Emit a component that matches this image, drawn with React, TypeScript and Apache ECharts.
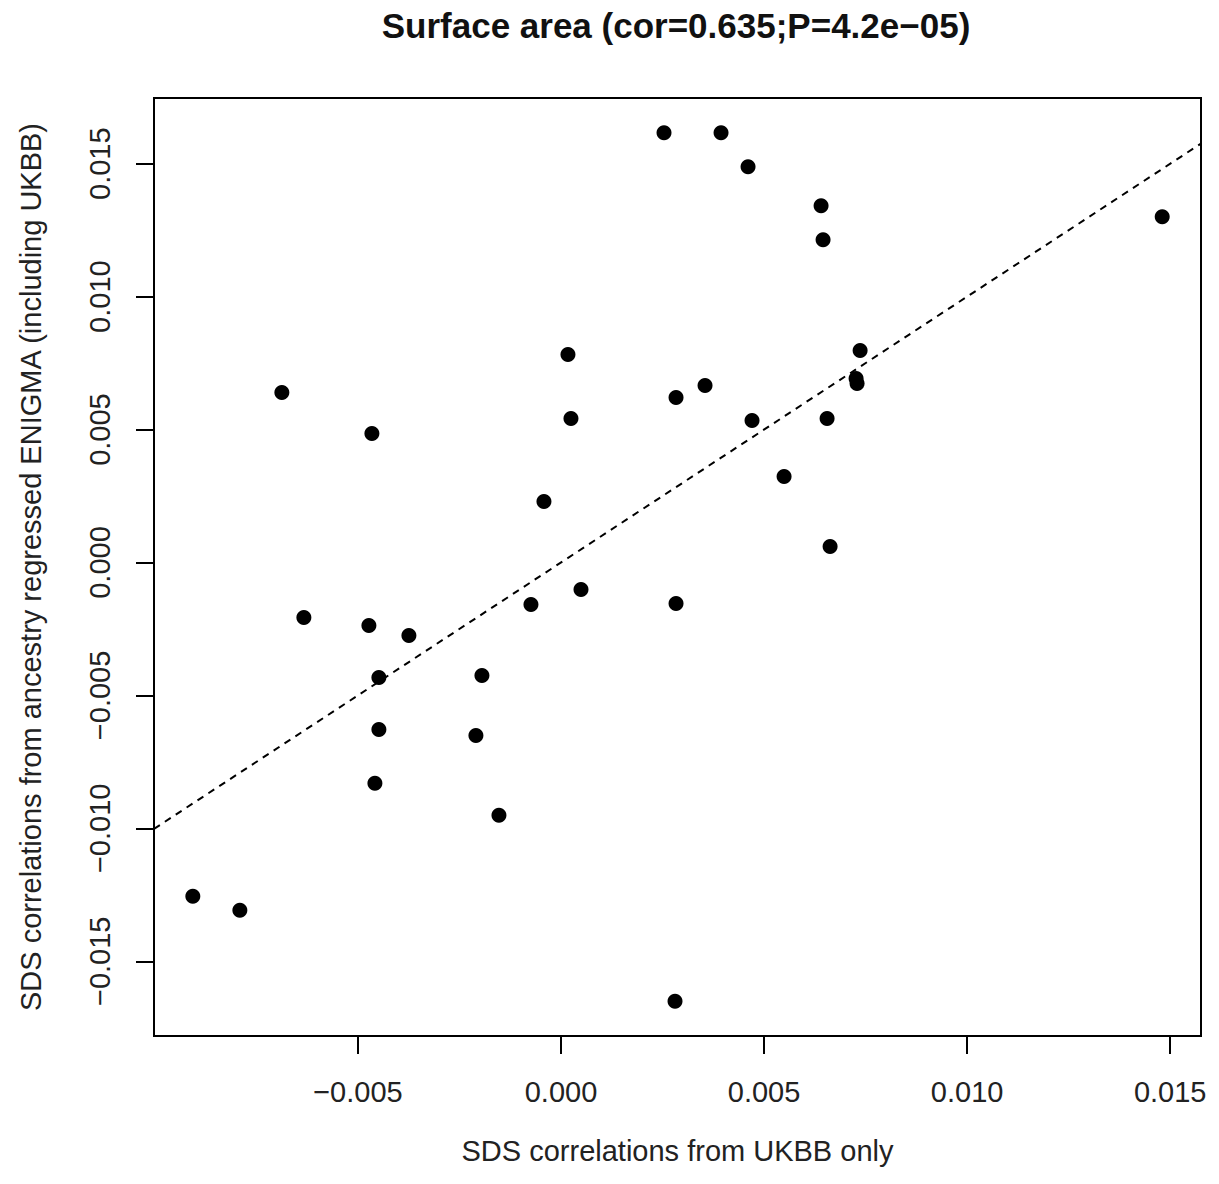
import React, { useEffect, useRef } from "react";
import * as echarts from "echarts";

// Data (x: UKBB only, y: ancestry regressed ENIGMA)
const ukbbOnly = [
  0.002537, 0.003941, 0.004606, 0.006404, 0.006453, 0.014803, 0.007365, 0.007266, 0.00729,
  0.006552, 0.005493, 0.006626, 0.004704, 0.003547, 0.002833, 0.000172, 0.000246, -0.000419,
  -0.006872, -0.004655, -0.00633, -0.004729, -0.003744, -0.004483, -0.001946, -0.004483,
  -0.002094, -0.004581, -0.001527, -0.000739, 0.000493, 0.002833, -0.009064, -0.007906, 0.002808,
];
const enigmaRegressed = [
  0.016165, 0.016165, 0.014887, 0.013421, 0.012143, 0.013008, 0.00797, 0.006917, 0.00673,
  0.005414, 0.003233, 0.000602, 0.005338, 0.006654, 0.006203, 0.00782, 0.005414, 0.002293,
  0.006391, 0.00485, -0.002068, -0.002368, -0.002744, -0.004323, -0.004248, -0.006278,
  -0.006504, -0.008308, -0.009511, -0.001579, -0.001015, -0.001541, -0.012556, -0.013083, -0.016504,
];

const xTicks = [-0.005, 0.0, 0.005, 0.01, 0.015];
const yTicks = [-0.015, -0.01, -0.005, 0.0, 0.005, 0.01, 0.015];

const xRange = [-0.01002, 0.015758];
const yRange = [-0.017811, 0.017472];

// reference (dashed) line: intercept 0, slope 1
const refIntercept = 0;
const refSlope = 1;

const titleText = "Surface area (cor=0.635;P=4.2e\u221205)";
const xName = "SDS correlations from UKBB only";
const yName = "SDS correlations from ancestry regressed ENIGMA (including UKBB)";

const FONT = "'Liberation Sans', Arial, Helvetica, sans-serif";

function fmt(v: number): string {
  const s = (Math.abs(v) < 1e-12 ? 0 : v).toFixed(3);
  return s.replace("-", "\u2212");
}

export default function App() {
  const ref = useRef<HTMLDivElement>(null);

  useEffect(() => {
    if (!ref.current) return;
    const chart = echarts.init(ref.current, null, { renderer: "svg" });

    const points = ukbbOnly.map((x, i) => [x, enigmaRegressed[i]]);
    const linePts = xRange.map((x) => [x, refIntercept + refSlope * x]);

    const axisLabelStyle = {
      color: "#222",
      fontFamily: FONT,
      fontSize: 29,
    };

    chart.setOption({
      animation: false,
      backgroundColor: "#fff",
      graphic: [
        {
          type: "text",
          x: 676,
          y: 25,
          style: {
            text: titleText,
            fontFamily: FONT,
            fontSize: 35,
            fontWeight: "bold",
            fill: "#111",
            textAlign: "center",
            textVerticalAlign: "middle",
          },
        },
      ],
      grid: {
        left: 154,
        top: 98,
        width: 1047,
        height: 938,
        show: true,
        borderColor: "#000",
        borderWidth: 2,
        backgroundColor: "transparent",
      },
      xAxis: {
        type: "value",
        min: xRange[0],
        max: xRange[1],
        name: xName,
        nameLocation: "middle",
        nameGap: 100,
        nameTextStyle: { color: "#222", fontFamily: FONT, fontSize: 29 },
        axisLine: { show: false, onZero: false },
        splitLine: { show: false },
        axisTick: {
          show: true,
          customValues: xTicks,
          length: 18,
          lineStyle: { color: "#000", width: 2 },
        },
        axisLabel: {
          ...axisLabelStyle,
          customValues: xTicks,
          margin: 41,
          formatter: (v: number) => fmt(v),
        },
      },
      yAxis: {
        type: "value",
        min: yRange[0],
        max: yRange[1],
        name: yName,
        nameLocation: "middle",
        nameGap: 109,
        nameTextStyle: { color: "#222", fontFamily: FONT, fontSize: 29 },
        axisLine: { show: false, onZero: false },
        splitLine: { show: false },
        axisTick: {
          show: true,
          customValues: yTicks,
          length: 18,
          lineStyle: { color: "#000", width: 2 },
        },
        axisLabel: {
          ...axisLabelStyle,
          customValues: yTicks,
          rotate: 90,
          margin: 40,
          formatter: (v: number) => fmt(v),
        },
      },
      series: [
        {
          type: "line",
          data: linePts,
          symbol: "none",
          silent: true,
          lineStyle: { color: "#000", width: 2, type: [7, 6] },
          z: 1,
        },
        {
          type: "scatter",
          data: points,
          symbol: "circle",
          symbolSize: 15,
          itemStyle: { color: "#000", opacity: 1 },
          z: 2,
        },
      ],
    });

    return () => chart.dispose();
  }, []);

  return (
    <div
      ref={ref}
      style={{ position: "absolute", left: 0, top: 0, width: 1219, height: 1184 }}
    />
  );
}
